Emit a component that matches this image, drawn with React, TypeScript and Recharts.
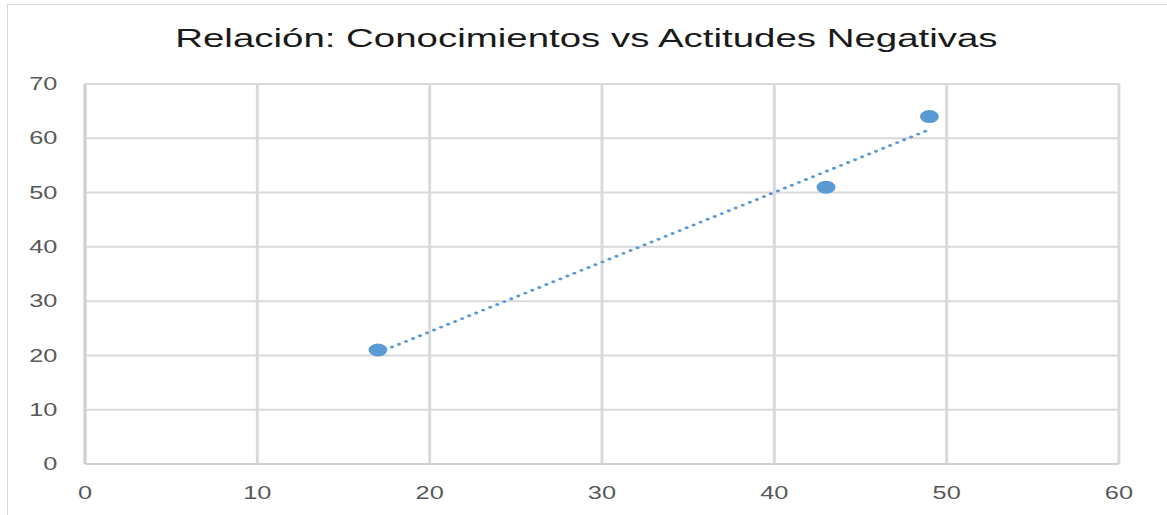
import { ScatterChart, Scatter, XAxis, YAxis, CartesianGrid } from 'recharts'

// conocimientos (x) vs actitudes negativas (y)
const conocimientos = [17, 43, 49]
const actitudes = [21, 51, 64]

// linear trend drawn between first and last x
const trendX = [17, 49]
const trendY = [20.5, 61.6]

const xTicks = [0, 10, 20, 30, 40, 50, 60]
const yTicks = [0, 10, 20, 30, 40, 50, 60, 70]

const points = conocimientos.map((x, i) => ({ x, y: actitudes[i] }))
const trend = trendX.map((x, i) => ({ x, y: trendY[i] }))

const STRETCH = 1.45
const W = 1167 / STRETCH
const BLUE = '#5b9bd5'
const tickStyle = { fill: '#595959', fontSize: 17.5, fontFamily: 'Liberation Sans, Arial, sans-serif' }

export default function App() {
	return (
		<div style={{ position: 'absolute', left: 0, top: 0, width: 1167, height: 515, overflow: 'hidden', background: '#fff' }}>
			<div
				style={{
					position: 'absolute',
					left: 7,
					top: 4,
					width: 1300,
					height: 700,
					border: '1.5px solid #d9d9d9',
				}}
			/>
			<div
				style={{
					position: 'absolute',
					left: 0,
					top: 0,
					width: W,
					height: 515,
					transform: `scaleX(${STRETCH})`,
					transformOrigin: '0 0',
				}}
			>
				<div
					style={{
						position: 'absolute',
						left: 0,
						top: 25,
						width: W + 4,
						textAlign: 'center',
						fontFamily: 'Liberation Sans, Arial, sans-serif',
						fontSize: 26.5,
						lineHeight: '26.5px',
						color: '#1a1a1a',
						whiteSpace: 'nowrap',
					}}
				>
					Relación: Conocimientos vs Actitudes Negativas
				</div>
				<ScatterChart width={W} height={515} margin={{ top: 84, right: W - 1119 / STRETCH, bottom: 0, left: 0 }}>
					<CartesianGrid stroke="#d9d9d9" strokeWidth={2} />
					<XAxis
						type="number"
						dataKey="x"
						domain={[0, 60]}
						ticks={xTicks}
						interval={0}
						height={51}
						tickLine={false}
						tickSize={0}
						tickMargin={23}
						axisLine={{ stroke: '#d0d0d0', strokeWidth: 2 }}
						tick={tickStyle}
					/>
					<YAxis
						type="number"
						dataKey="y"
						domain={[0, 70]}
						ticks={yTicks}
						interval={0}
						width={85 / STRETCH}
						tickLine={false}
						tickSize={0}
						tickMargin={19}
						axisLine={{ stroke: '#d0d0d0', strokeWidth: 2 }}
						tick={tickStyle}
					/>
					<Scatter
						data={trend}
						line={{ stroke: BLUE, strokeWidth: 2.8, strokeDasharray: '0.01 5.6', strokeLinecap: 'round' }}
						shape={() => <g />}
						isAnimationActive={false}
					/>
					<Scatter
						data={points}
						fill={BLUE}
						shape={(p: any) => <circle cx={p.cx} cy={p.cy} r={6.5} fill={BLUE} />}
						isAnimationActive={false}
					/>
				</ScatterChart>
			</div>
		</div>
	)
}
